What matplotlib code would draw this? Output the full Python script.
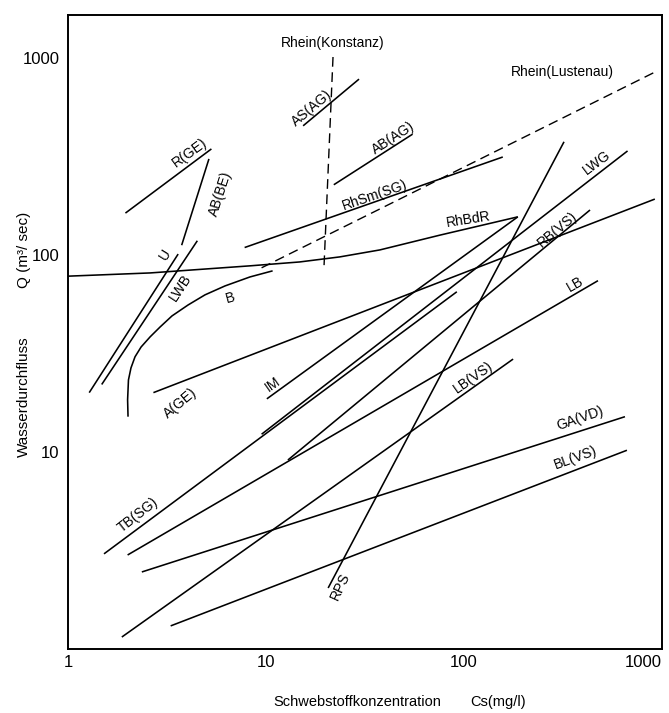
import matplotlib
matplotlib.use("Agg")
import matplotlib.pyplot as plt
from matplotlib.ticker import NullLocator

plt.rcParams['font.family'] = ['Liberation Sans', 'DejaVu Sans']

# Q (m3/sec) gegen Cs (mg/l)
rge_x = [1.95, 5.3]
rge_y = [163, 345]
abbe_x = [3.75, 5.15]
abbe_y = [112, 307]
u_x = [1.28, 3.6]
u_y = [20, 101]
lwb_x = [1.48, 4.5]
lwb_y = [22, 118]
b_x = [2.01, 2.0, 2.02, 2.08, 2.18, 2.34, 2.6, 2.92, 3.35, 4.04, 4.92, 6.21, 8.3, 10.8]
b_y = [15.1, 18.4, 23.2, 26.7, 30.4, 34.1, 38.4, 43.1, 49.0, 55.7, 62.7, 69.6, 77.3, 83.0]
rhbdr_x = [1.0, 2.6, 8.3, 14.8, 23.6, 37.6, 75.6, 187]
rhbdr_y = [78, 81, 88, 92.1, 97.7, 106, 126, 156]
age_x = [2.7, 920]
age_y = [20, 192]
im_x = [10.1, 187]
im_y = [18.6, 156]
tbsg_x = [1.52, 92]
tbsg_y = [3.04, 65]
lwg_x = [9.5, 670]
lwg_y = [12.3, 337]
lb_x = [2.0, 475]
lb_y = [3.0, 74]
rbvs_x = [12.9, 433]
rbvs_y = [9.1, 169]
lbvs_x = [1.87, 177]
lbvs_y = [1.15, 29.6]
gavd_x = [2.36, 650]
gavd_y = [2.46, 15.1]
blvs_x = [3.3, 665]
blvs_y = [1.31, 10.2]
rps_x = [20.6, 320]
rps_y = [2.04, 375]
asag_x = [15.4, 29.5]
asag_y = [452, 780]
abag_x = [22, 55]
abag_y = [227, 410]
rhsm_x = [7.8, 157]
rhsm_y = [109, 314]
# gestrichelt
lustenau_x = [9.5, 950]
lustenau_y = [86, 860]
konstanz_x = [21.8, 19.6]
konstanz_y = [1010, 84]

x_ticks = [1, 10, 100, 1000]
x_ticklabels = ['1', '10', '100', '1000']
y_ticks = [10, 100, 1000]
y_ticklabels = ['10', '100', '1000']

solid = [(rge_x, rge_y), (abbe_x, abbe_y), (u_x, u_y), (lwb_x, lwb_y),
         (b_x, b_y), (rhbdr_x, rhbdr_y), (age_x, age_y), (im_x, im_y),
         (tbsg_x, tbsg_y), (lwg_x, lwg_y), (lb_x, lb_y), (rbvs_x, rbvs_y),
         (lbvs_x, lbvs_y), (gavd_x, gavd_y), (blvs_x, blvs_y), (rps_x, rps_y),
         (asag_x, asag_y), (abag_x, abag_y), (rhsm_x, rhsm_y)]
dashed = [(lustenau_x, lustenau_y), (konstanz_x, konstanz_y)]

fig = plt.figure(figsize=(6.69, 7.13), dpi=100)
ax = fig.add_axes([68 / 669, 1 - 649 / 713, 594 / 669, 634 / 713])
ax.set_xscale('log')
ax.set_yscale('log')
ax.set_xlim(1, 1000)
ax.set_ylim(1, 1650)

for xs, ys in solid:
    ax.plot(xs, ys, color='black', lw=1.15, solid_capstyle='butt', solid_joinstyle='round')
for xs, ys in dashed:
    ax.plot(xs, ys, color='black', lw=1.0, linestyle=(0, (7, 4)))

# Beschriftungen der Kurven (x, y, text, drehung)
labels = [
    (21.8, 1190, 'Rhein(Konstanz)', 0),
    (313, 849, 'Rhein(Lustenau)', 0),
    (17.1, 557, 'AS(AG)', 40),
    (43.8, 393, 'AB(AG)', 33),
    (4.13, 330, 'R(GE)', 36),
    (5.86, 204, 'AB(BE)', 72),
    (3.09, 100, 'U', 58),
    (3.68, 68, 'LWB', 57),
    (6.58, 60.5, 'B', 15),
    (3.68, 17.7, 'A(GE)', 40),
    (10.8, 22.1, 'IM', 35),
    (35.5, 200, 'RhSm(SG)', 19),
    (105, 152, 'RhBdR', 9),
    (470, 293, 'LWG', 37),
    (295, 135, 'RB(VS)', 40),
    (364, 71, 'LB', 30),
    (111, 24, 'LB(VS)', 35),
    (385, 14.8, 'GA(VD)', 19),
    (364, 9.3, 'BL(VS)', 20),
    (2.26, 4.79, 'TB(SG)', 38),
    (23.6, 2.09, 'RPS', 65),
]
for lx, ly, s, rot in labels:
    ax.text(lx, ly, s, rotation=rot, rotation_mode='anchor',
            ha='center', va='center', fontsize=10)

ax.set_xticks(x_ticks)
ax.set_xticklabels(x_ticklabels, fontsize=12)
ax.set_yticks(y_ticks)
ax.set_yticklabels(y_ticklabels, fontsize=12)
ax.xaxis.set_minor_locator(NullLocator())
ax.yaxis.set_minor_locator(NullLocator())
ax.tick_params(axis='x', length=0, pad=4.5)
ax.tick_params(axis='y', length=0, pad=6)
ax.get_xticklabels()[-1].set_ha('right')

for sp in ax.spines.values():
    sp.set_linewidth(1.4)

fig.text(0.036, 0.443, 'Wasserdurchfluss', rotation=90, ha='center', va='center', fontsize=11)
fig.text(0.036, 0.649, 'Q (m³/ sec)', rotation=90, ha='center', va='center', fontsize=11)
fig.text(357 / 669, 0.016, 'Schwebstoffkonzentration', ha='center', va='center', fontsize=10.5)
fig.text(498 / 669, 0.016, 'Cs(mg/l)', ha='center', va='center', fontsize=10.5)

fig.savefig('out.png', dpi=100)
